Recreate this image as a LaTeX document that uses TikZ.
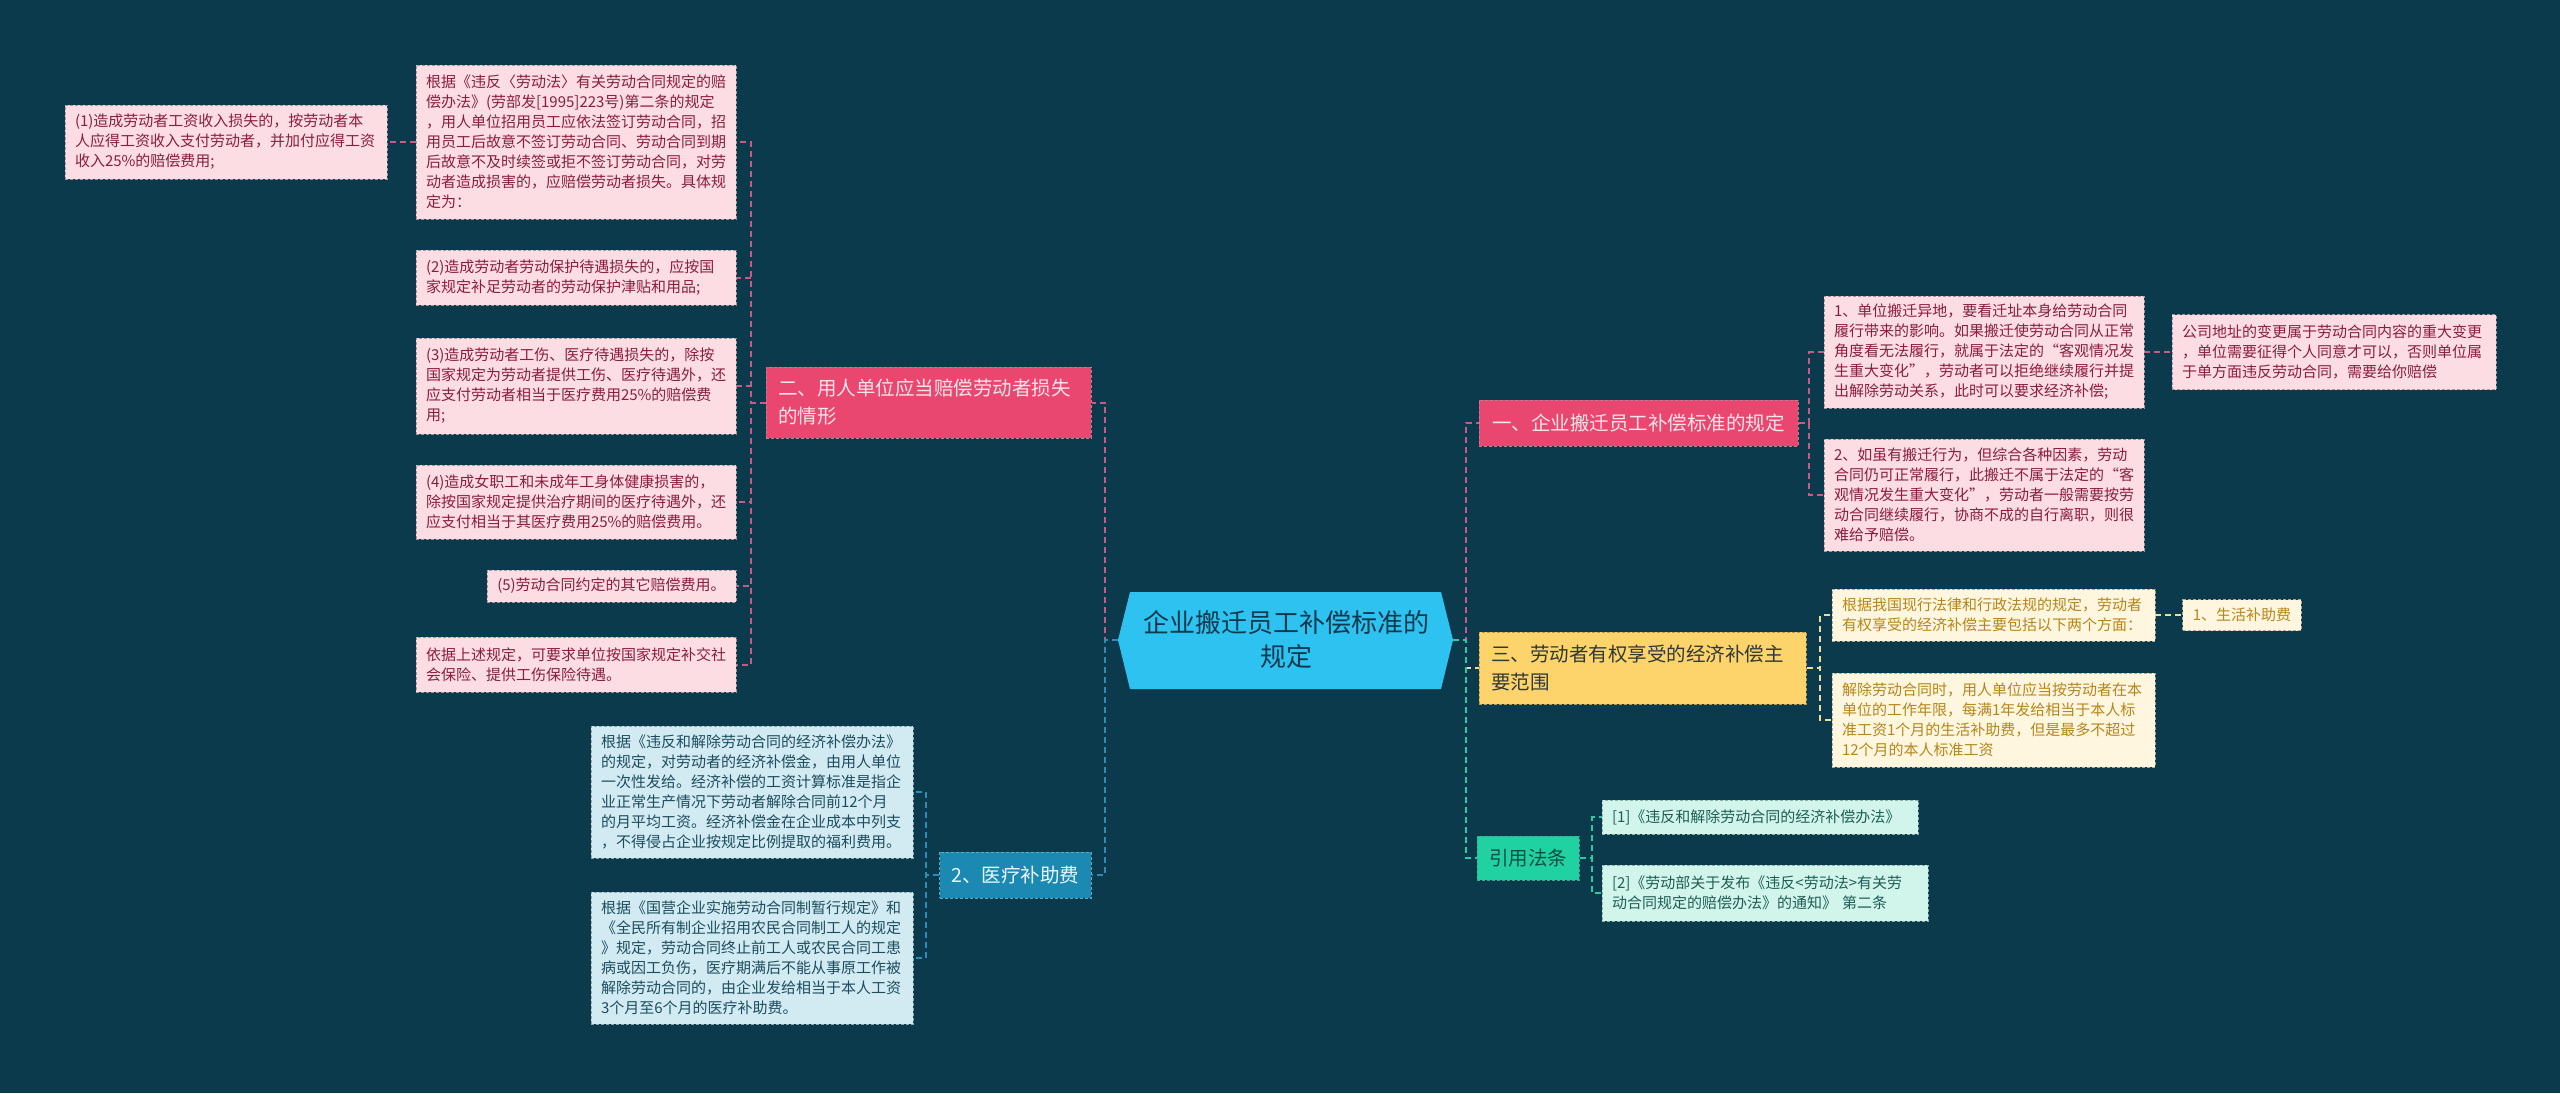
\documentclass[tikz,border=0pt]{standalone}
\usepackage{fontspec}
\newfontfamily\cjk{Noto Sans CJK SC}
\usetikzlibrary{backgrounds}
\definecolor{bg}{HTML}{0C3A4D}
\definecolor{cenF}{HTML}{2EC2F1}
\definecolor{cenT}{HTML}{0C3A4D}
\definecolor{redF}{HTML}{E9476F}
\definecolor{redT}{HTML}{FDE4EA}
\definecolor{redB}{HTML}{C07C90}
\definecolor{pinkF}{HTML}{FBDDE3}
\definecolor{pinkT}{HTML}{8A1E3E}
\definecolor{pinkB}{HTML}{A8969B}
\definecolor{pinkC}{HTML}{C65B84}
\definecolor{blueF}{HTML}{1B89B2}
\definecolor{blueT}{HTML}{EAF7FC}
\definecolor{blueB}{HTML}{5FA9C6}
\definecolor{blueLF}{HTML}{D2EBF3}
\definecolor{blueLT}{HTML}{1D4C5D}
\definecolor{blueLB}{HTML}{8FA9B2}
\definecolor{blueC}{HTML}{2A8DB8}
\definecolor{yelF}{HTML}{FDD36B}
\definecolor{yelT}{HTML}{2F3A38}
\definecolor{yelB}{HTML}{B89A50}
\definecolor{yelLF}{HTML}{FEF6DF}
\definecolor{yelLT}{HTML}{B5861A}
\definecolor{yelLB}{HTML}{B0A890}
\definecolor{yelC}{HTML}{EEDB9E}
\definecolor{grnF}{HTML}{20D1A1}
\definecolor{grnT}{HTML}{0D4C42}
\definecolor{grnB}{HTML}{3FA88A}
\definecolor{grnLF}{HTML}{D1F4EB}
\definecolor{grnLT}{HTML}{1F5E55}
\definecolor{grnLB}{HTML}{8FB0A8}
\definecolor{grnC}{HTML}{2ACBA2}
\begin{document}
\begin{tikzpicture}[x=1pt,y=-1pt,
  leaf/.style={draw, dash pattern=on 3pt off 2pt, line width=0.9pt, inner xsep=10pt, inner ysep=0pt,
    font=\cjk\fontsize{15}{20}\selectfont, align=left},
  pleaf/.style={leaf, fill=pinkF, draw=pinkB, text=pinkT},
  bleaf/.style={leaf, fill=blueLF, draw=blueLB, text=blueLT},
  yleaf/.style={leaf, fill=yelLF, draw=yelLB, text=yelLT},
  gleaf/.style={leaf, fill=grnLF, draw=grnLB, text=grnLT},
  mainnode/.style={draw, dash pattern=on 3pt off 2pt, line width=1pt, inner xsep=12pt, inner ysep=0pt,
    font=\cjk\fontsize{19.5}{28}\selectfont},
  conn/.style={line width=2pt, dash pattern=on 6pt off 4pt}
]
\begin{pgfonlayer}{background}
\fill[bg] (0,0) rectangle (2560,1093);
\end{pgfonlayer}
\useasboundingbox (0,0) rectangle (2560,1093);

% central hexagon
\fill[cenF] (1118,640) -- (1130,592) -- (1441,592) -- (1453,640) -- (1441,689) -- (1130,689) -- cycle;
\coordinate (cw) at (1118,640);
\coordinate (ce) at (1453,640);
\node[font=\cjk\fontsize{26}{34}\selectfont, text=cenT, align=center] (c) at (1286,640) {企业搬迁员工补偿标准的\\规定};

% main branches
\node[mainnode, fill=redF, draw=redB, text=redT, text width=301pt, align=left, minimum height=71pt] (L1) at (928.5,402.5)
 {二、用人单位应当赔偿劳动者损失\\的情形};
\node[mainnode, fill=blueF, draw=blueB, text=blueT, minimum width=151pt, minimum height=46pt] (L2) at (1015.5,875)
 {2、医疗补助费};
\node[mainnode, fill=redF, draw=redB, text=redT, minimum width=319pt, minimum height=46pt] (R1) at (1638.5,423)
 {一、企业搬迁员工补偿标准的规定};
\node[mainnode, fill=yelF, draw=yelB, text=yelT, text width=303pt, align=left, minimum height=72pt] (R3) at (1642.5,668)
 {三、劳动者有权享受的经济补偿主\\要范围};
\node[mainnode, fill=grnF, draw=grnB, text=grnT, minimum width=98pt, minimum height=44pt] (R4) at (1528,858)
 {引用法条};

% left leaves (branch 二)
\node[pleaf, text width=300pt, minimum height=154pt] (L1a) at (576,142)
 {根据《违反〈劳动法〉有关劳动合同规定的赔\\偿办法》(劳部发[1995]223号)第二条的规定\\，用人单位招用员工应依法签订劳动合同，招\\用员工后故意不签订劳动合同、劳动合同到期\\后故意不及时续签或拒不签订劳动合同，对劳\\动者造成损害的，应赔偿劳动者损失。具体规\\定为：};
\node[pleaf, text width=302pt, minimum height=74pt] (L1a1) at (226,142)
 {(1)造成劳动者工资收入损失的，按劳动者本\\人应得工资收入支付劳动者，并加付应得工资\\收入25\%的赔偿费用;};
\node[pleaf, text width=300pt, minimum height=55pt] (L1b) at (576,277.5)
 {(2)造成劳动者劳动保护待遇损失的，应按国\\家规定补足劳动者的劳动保护津贴和用品;};
\node[pleaf, text width=300pt, minimum height=96pt] (L1c) at (576,386)
 {(3)造成劳动者工伤、医疗待遇损失的，除按\\国家规定为劳动者提供工伤、医疗待遇外，还\\应支付劳动者相当于医疗费用25\%的赔偿费\\用;};
\node[pleaf, text width=300pt, minimum height=74pt] (L1d) at (576,502)
 {(4)造成女职工和未成年工身体健康损害的，\\除按国家规定提供治疗期间的医疗待遇外，还\\应支付相当于其医疗费用25\%的赔偿费用。};
\node[pleaf, align=center, minimum width=249pt, minimum height=32pt] (L1e) at (611.5,586)
 {(5)劳动合同约定的其它赔偿费用。};
\node[pleaf, text width=300pt, minimum height=55pt] (L1f) at (576,664.5)
 {依据上述规定，可要求单位按国家规定补交社\\会保险、提供工伤保险待遇。};

% left leaves (branch 2)
\node[bleaf, text width=302pt, minimum height=132pt] (L2a) at (752,792)
 {根据《违反和解除劳动合同的经济补偿办法》\\的规定，对劳动者的经济补偿金，由用人单位\\一次性发给。经济补偿的工资计算标准是指企\\业正常生产情况下劳动者解除合同前12个月\\的月平均工资。经济补偿金在企业成本中列支\\，不得侵占企业按规定比例提取的福利费用。};
\node[bleaf, text width=302pt, minimum height=132pt] (L2b) at (752,958)
 {根据《国营企业实施劳动合同制暂行规定》和\\《全民所有制企业招用农民合同制工人的规定\\》规定，劳动合同终止前工人或农民合同工患\\病或因工负伤，医疗期满后不能从事原工作被\\解除劳动合同的，由企业发给相当于本人工资\\3个月至6个月的医疗补助费。};

% right leaves (branch 一)
\node[pleaf, text width=300pt, minimum height=112pt] (R1a) at (1984,352)
 {1、单位搬迁异地，要看迁址本身给劳动合同\\履行带来的影响。如果搬迁使劳动合同从正常\\角度看无法履行，就属于法定的“客观情况发\\生重大变化”，劳动者可以拒绝继续履行并提\\出解除劳动关系，此时可以要求经济补偿;};
\node[pleaf, text width=300pt, minimum height=112pt] (R1b) at (1984,495)
 {2、如虽有搬迁行为，但综合各种因素，劳动\\合同仍可正常履行，此搬迁不属于法定的“客\\观情况发生重大变化”，劳动者一般需要按劳\\动合同继续履行，协商不成的自行离职，则很\\难给予赔偿。};
\node[pleaf, text width=304pt, minimum height=75pt] (R1a1) at (2334,352)
 {公司地址的变更属于劳动合同内容的重大变更\\，单位需要征得个人同意才可以，否则单位属\\于单方面违反劳动合同，需要给你赔偿};

% right leaves (branch 三)
\node[yleaf, text width=303pt, minimum height=52pt] (R3a) at (1993.5,615)
 {根据我国现行法律和行政法规的规定，劳动者\\有权享受的经济补偿主要包括以下两个方面：};
\node[yleaf, align=center, minimum width=115pt, minimum height=31pt] (R3a1) at (2242,615)
 {1、生活补助费};
\node[yleaf, text width=303pt, minimum height=94pt] (R3b) at (1993.5,720)
 {解除劳动合同时，用人单位应当按劳动者在本\\单位的工作年限，每满1年发给相当于本人标\\准工资1个月的生活补助费，但是最多不超过\\12个月的本人标准工资};

% right leaves (引用法条)
\node[gleaf, text width=296pt, minimum height=34pt] (R4a) at (1760,817)
 {[1]《违反和解除劳动合同的经济补偿办法》};
\node[gleaf, text width=306pt, minimum height=56pt] (R4b) at (1765,893)
 {[2]《劳动部关于发布《违反<劳动法>有关劳\\动合同规定的赔偿办法》的通知》 第二条};

% connectors
\begin{pgfonlayer}{background}
\coordinate (tL) at (1105,640);
\coordinate (tR) at (1466,640);
\draw[conn, pinkC] (cw) -- (tL) |- (L1.east);
\draw[conn, blueC] (cw) -- (tL) |- (L2.east);
\draw[conn, pinkC] (ce) -- (tR) |- (R1.west);
\draw[conn, yelC] (ce) -- (tR) |- (R3.west);
\draw[conn, grnC] (ce) -- (tR) |- (R4.west);

\coordinate (tL1) at (751,402.5);
\foreach \n in {L1a,L1b,L1c,L1d,L1e,L1f}
  \draw[conn, pinkC] (L1.west) -- (tL1) |- (\n.east);
\draw[conn, pinkC] (L1a.west) -- (L1a1.east);

\coordinate (tL2) at (926,875);
\foreach \n in {L2a,L2b}
  \draw[conn, blueC] (L2.west) -- (tL2) |- (\n.east);

\coordinate (tR1) at (1809,423);
\foreach \n in {R1a,R1b}
  \draw[conn, pinkC] (R1.east) -- (tR1) |- (\n.west);
\draw[conn, pinkC] (R1a.east) -- (R1a1.west);

\coordinate (tR3) at (1820,668);
\foreach \n in {R3a,R3b}
  \draw[conn, yelC] (R3.east) -- (tR3) |- (\n.west);
\draw[conn, yelC] (R3a.east) -- (R3a1.west);

\coordinate (tR4) at (1592,858);
\foreach \n in {R4a,R4b}
  \draw[conn, grnC] (R4.east) -- (tR4) |- (\n.west);
\end{pgfonlayer}
\end{tikzpicture}
\end{document}
